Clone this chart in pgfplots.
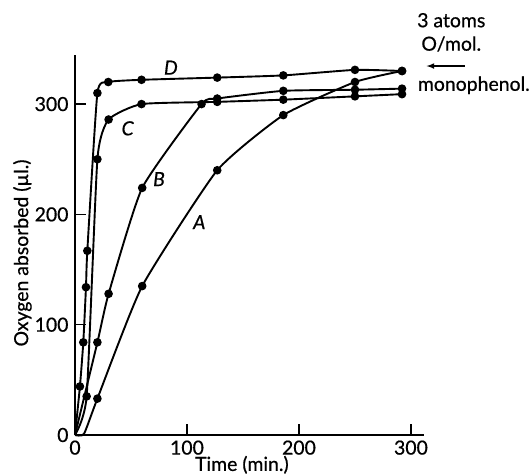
\documentclass[border=0pt]{standalone}
\usepackage{pgfplots}
\pgfplotsset{compat=1.18}
\usepackage{fontspec}
\setmainfont{Lato}[FakeBold=0.6]
\newcommand\lbl{\fontsize{19.5}{20}\selectfont}
\pgfplotsset{curve/.style={black, solid, line width=1.9bp, mark=*, mark size=3.3bp, mark options={solid, fill=black}, smooth, tension=0.3, mark repeat=1, mark phase=2}}
\begin{document}
\begin{tikzpicture}[x=1bp,y=1bp]
\path[use as bounding box] (0,0) rectangle (530,475);
\begin{axis}[
  at={(75bp,40bp)}, anchor=south west,
  scale only axis, width=349.4bp, height=380bp,
  xmin=0, xmax=312, ymin=0, ymax=344.5,
  axis lines=left, axis line style={-, line width=2.4bp},
  xtick={0,100,200,300}, ytick={0,100,200,300},
  tick align=inside, major tick length=11bp,
  tick style={line width=1.6bp, black},
  /pgf/number format/assume math mode=true,
  tick label style={font=\lbl},
  x tick label style={yshift=-2bp},
  y tick label style={xshift=-3bp},
  clip=false,
]
% A
\addplot[curve, mark phase=3] coordinates {(0,0) (8,1) (20,33) (60,135) (127,240) (186,290) (250,320) (292,330)};
% B
\addplot[curve] coordinates {(0,0) (20,84) (30,128) (60,224) (113,300) (127,305) (186,312) (250,313) (292,314)};
% C
\addplot[curve] coordinates {(0,0) (10.4,35) (20,250) (30,286) (59.4,300) (127,302) (186,304) (250,307) (292,309)};
% D
\addplot[curve] coordinates {(0,0) (4.4,44) (7.4,84) (9.8,134) (11,167) (20,310) (29.7,320) (59.4,322) (127,324) (186,326) (250,331) (292,330)};
\node[font=\lbl\itshape] at (axis cs:111,193) {A};
\node[font=\lbl\itshape] at (axis cs:75,232) {B};
\node[font=\lbl\itshape] at (axis cs:47,278) {C};
\node[font=\lbl\itshape] at (axis cs:85.6,333) {D};
\node[font=\lbl] at (axis cs:149,-27) {Time (min.)};
\node[font=\lbl, rotate=90] at (axis cs:-47,165) {Oxygen absorbed (µl.)};
\node[font=\lbl] at (axis cs:336,376) {3 atoms};
\node[font=\lbl] at (axis cs:336,354.5) {O/mol.};
\node[font=\lbl, anchor=west, inner sep=0pt] at (axis cs:306,317) {monophenol.};
\draw[-latex, line width=1.6bp] (axis cs:348,334.5) -- (axis cs:314,334.5);
\end{axis}
\end{tikzpicture}
\end{document}
